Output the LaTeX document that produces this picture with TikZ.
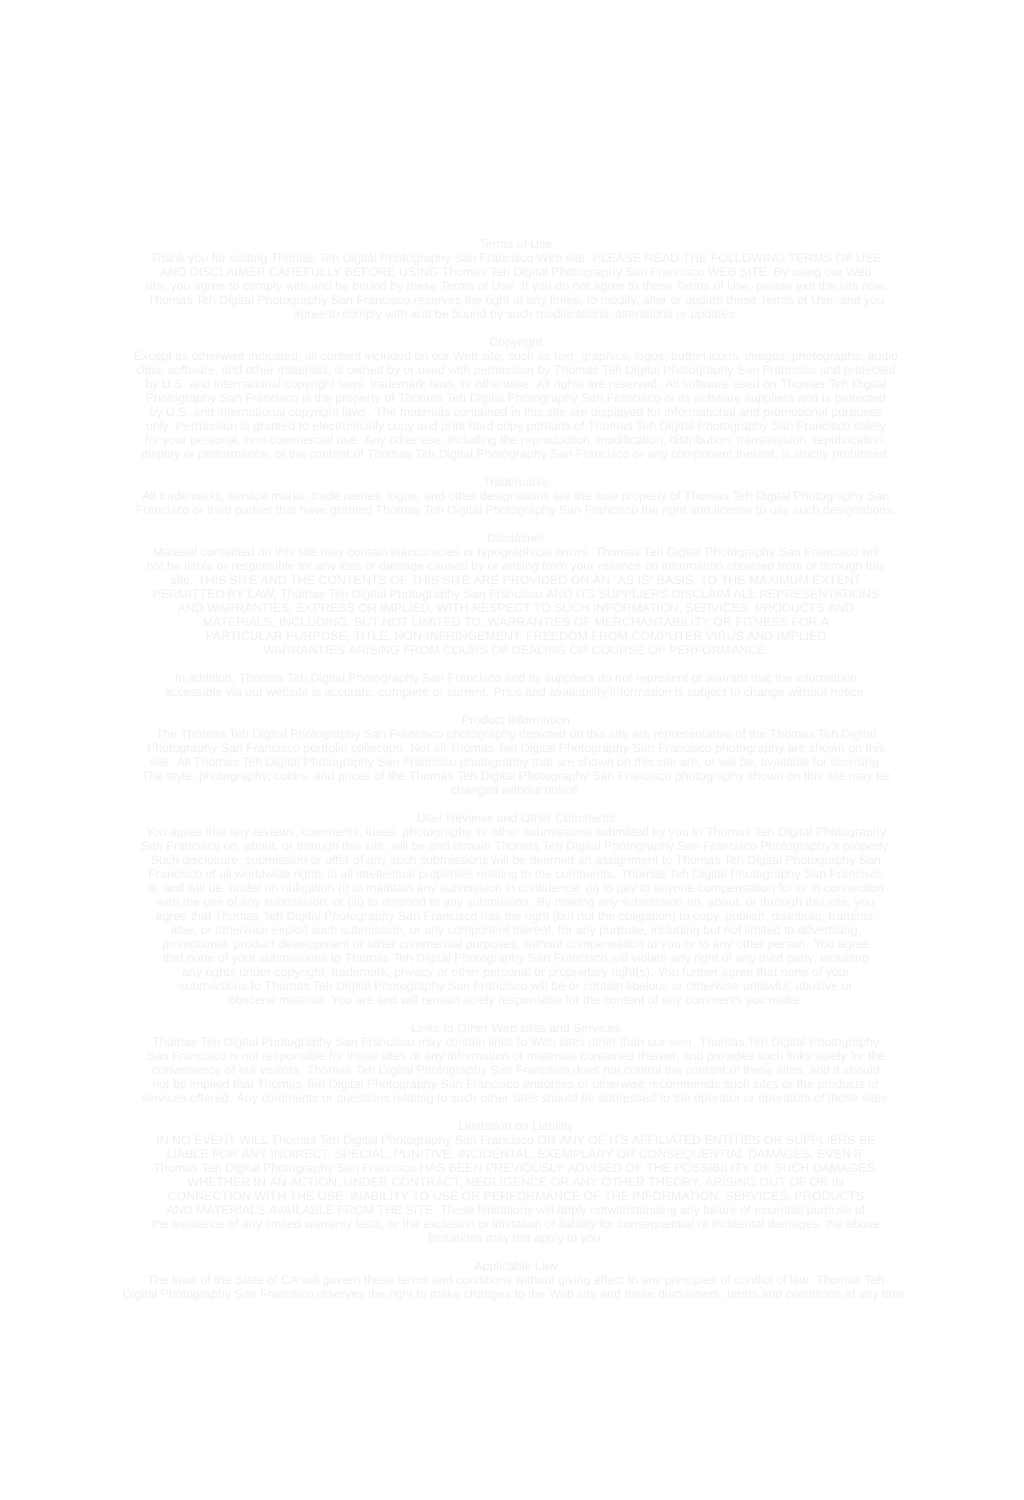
\documentclass[tikz,border=0pt]{standalone}
\usepackage{fontspec}
\setmainfont{Liberation Sans}
\usepackage{tikz}
\definecolor{faint}{gray}{0.94}
\tikzstyle{termsbox} = [text=faint, inner sep=0pt, anchor=north, align=center,
    font=\fontsize{12.4}{14}\selectfont]

\begin{document}
\begin{tikzpicture}[x=1pt, y=-1pt]
    \fill[white] (0,0) rectangle (1024,1500);
    \useasboundingbox (0,0) rectangle (1024,1500);
                \node [termsbox] (terms) at (516,239.5) {%
                    Terms of Use\\
                    Thank you for visiting Thomas Teh Digital Photography San Francisco Web site. PLEASE READ THE FOLLOWING TERMS OF USE\\
                    AND DISCLAIMER CAREFULLY BEFORE USING Thomas Teh Digital Photography San Francisco WEB SITE. By using our Web\\
                    site, you agree to comply with and be bound by these Terms of Use. If you do not agree to these Terms of Use, please exit the site now.\\
                    Thomas Teh Digital Photography San Francisco reserves the right at any times, to modify, alter or update these Terms of Use, and you\\
                    agree to comply with and be bound by such modifications, alterations or updates.
                };
                \node [termsbox] (copyright) at (516,337.5) {%
                    Copyright\\
                    Except as otherwise indicated, all content included on our Web site, such as text, graphics, logos, button icons, images, photographs, audio\\
                    clips, software, and other materials, is owned by or used with permission by Thomas Teh Digital Photography San Francisco and protected\\
                    by U.S. and international copyright laws, trademark laws, or otherwise. All rights are reserved. All software used on Thomas Teh Digital\\
                    Photography San Francisco is the property of Thomas Teh Digital Photography San Francisco or its software suppliers and is protected\\
                    by U.S. and international copyright laws. The materials contained in this site are displayed for informational and promotional purposes\\
                    only. Permission is granted to electronically copy and print hard copy portions of Thomas Teh Digital Photography San Francisco solely\\
                    for your personal, non-commercial use. Any other use, including the reproduction, modification, distribution, transmission, republication,\\
                    display or performance, of the content of Thomas Teh Digital Photography San Francisco or any component thereof, is strictly prohibited.
                };
                \node [termsbox] (trademarks) at (516,477.5) {%
                    Trademarks\\
                    All trademarks, service marks, trade names, logos, and other designations are the sole property of Thomas Teh Digital Photography San\\
                    Francisco or third parties that have granted Thomas Teh Digital Photography San Francisco the right and license to use such designations.
                };
                \node [termsbox] (disclaimer) at (516,533.5) {%
                    Disclaimer\\
                    Material contained on this site may contain inaccuracies or typographical errors. Thomas Teh Digital Photography San Francisco will\\
                    not be liable or responsible for any loss or damage caused by or arising from your reliance on information obtained from or through this\\
                    site. THIS SITE AND THE CONTENTS OF THIS SITE ARE PROVIDED ON AN ``AS IS'' BASIS. TO THE MAXIMUM EXTENT\\
                    PERMITTED BY LAW, Thomas Teh Digital Photography San Francisco AND ITS SUPPLIERS DISCLAIM ALL REPRESENTATIONS\\
                    AND WARRANTIES, EXPRESS OR IMPLIED, WITH RESPECT TO SUCH INFORMATION, SERVICES, PRODUCTS AND\\
                    MATERIALS, INCLUDING, BUT NOT LIMITED TO, WARRANTIES OF MERCHANTABILITY OR FITNESS FOR A\\
                    PARTICULAR PURPOSE, TITLE, NON-INFRINGEMENT, FREEDOM FROM COMPUTER VIRUS AND IMPLIED\\
                    WARRANTIES ARISING FROM COURS OF DEALING OR COURSE OF PERFORMANCE.
                };
                \node [termsbox] (addition) at (516,673.5) {%
                    In addition, Thomas Teh Digital Photography San Francisco and its suppliers do not represent or warrant that the information\\
                    accessible via our website is accurate, complete or current. Price and availability information is subject to change without notice.
                };
                \node [termsbox] (product) at (516,715.5) {%
                    Product Information\\
                    The Thomas Teh Digital Photography San Francisco photography depicted on this site are representative of the Thomas Teh Digital\\
                    Photography San Francisco portfolio collection. Not all Thomas Teh Digital Photography San Francisco photography are shown on this\\
                    site. All Thomas Teh Digital Photography San Francisco photography that are shown on this site are, or will be, available for licensing.\\
                    The style, photography, colors, and prices of the Thomas Teh Digital Photography San Francisco photography shown on this site may be\\
                    changed without notice.
                };
                \node [termsbox] (reviews) at (516,813.5) {%
                    User Reviews and Other Comments\\
                    You agree that any reviews, comments, ideas, photography, or other submissions submitted by you to Thomas Teh Digital Photography\\
                    San Francisco on, about, or through this site, will be and remain Thomas Teh Digital Photography San Francisco Photography's property.\\
                    Such disclosure, submission or offer of any such submissions will be deemed an assignment to Thomas Teh Digital Photography San\\
                    Francisco of all worldwide rights in all intellectual properties relating to the comments. Thomas Teh Digital Photography San Francisco\\
                    is, and will be, under no obligation (i) to maintain any submission in confidence; (ii) to pay to anyone compensation for or in connection\\
                    with the use of any submission, or (iii) to respond to any submission. By making any submission on, about, or through this site, you\\
                    agree that Thomas Teh Digital Photography San Francisco has the right (but not the obligation) to copy, publish, distribute, transmit,\\
                    alter, or otherwise exploit such submission, or any component thereof, for any purpose, including but not limited to advertising,\\
                    promotional, product development or other commercial purposes, without compensation to you or to any other person. You agree\\
                    that none of your submissions to Thomas Teh Digital Photography San Francisco will violate any right of any third party, including\\
                    any rights under copyright, trademark, privacy or other personal or proprietary right(s). You further agree that none of your\\
                    submissions to Thomas Teh Digital Photography San Francisco will be or contain libelous or otherwise unlawful, abusive or\\
                    obscene material. You are and will remain solely responsible for the content of any comments you make.
                };
                \node [termsbox] (links) at (516,1023.5) {%
                    Links to Other Web sites and Services\\
                    Thomas Teh Digital Photography San Francisco may contain links to Web sites other than our own. Thomas Teh Digital Photography\\
                    San Francisco is not responsible for those sites or any information or materials contained therein, and provides such links solely for the\\
                    convenience of our visitors. Thomas Teh Digital Photography San Francisco does not control the content of these sites, and it should\\
                    not be implied that Thomas Teh Digital Photography San Francisco endorses or otherwise recommends such sites or the products or\\
                    services offered. Any comments or questions relating to such other sites should be addressed to the operator or operators of those sites.
                };
                \node [termsbox] (liability) at (516,1121.5) {%
                    Limitation on Liability\\
                    IN NO EVENT WILL Thomas Teh Digital Photography San Francisco OR ANY OF ITS AFFILIATED ENTITIES OR SUPPLIERS BE\\
                    LIABLE FOR ANY INDIRECT, SPECIAL, PUNITIVE, INCIDENTAL, EXEMPLARY OR CONSEQUENTIAL DAMAGES, EVEN IF\\
                    Thomas Teh Digital Photography San Francisco HAS BEEN PREVIOUSLY ADVISED OF THE POSSIBILITY OF SUCH DAMAGES,\\
                    WHETHER IN AN ACTION, UNDER CONTRACT, NEGLIGENCE OR ANY OTHER THEORY, ARISING OUT OF OR IN\\
                    CONNECTION WITH THE USE, INABILITY TO USE OR PERFORMANCE OF THE INFORMATION, SERVICES, PRODUCTS\\
                    AND MATERIALS AVAILABLE FROM THE SITE. These limitations will apply notwithstanding any failure of essential purpose of\\
                    the existence of any limited warranty lasts, or the exclusion or limitation of liability for consequential or incidental damages, the above\\
                    limitations may not apply to you.
                };
                \node [termsbox] (law) at (516,1261.5) {%
                    Applicable Law\\
                    The laws of the State of CA will govern these terms and conditions without giving effect to any principles of conflict of law. Thomas Teh\\
                    Digital Photography San Francisco reserves the right to make changes to the Web site and these disclaimers, terms and conditions at any time.
                };
\end{tikzpicture}
\end{document}
